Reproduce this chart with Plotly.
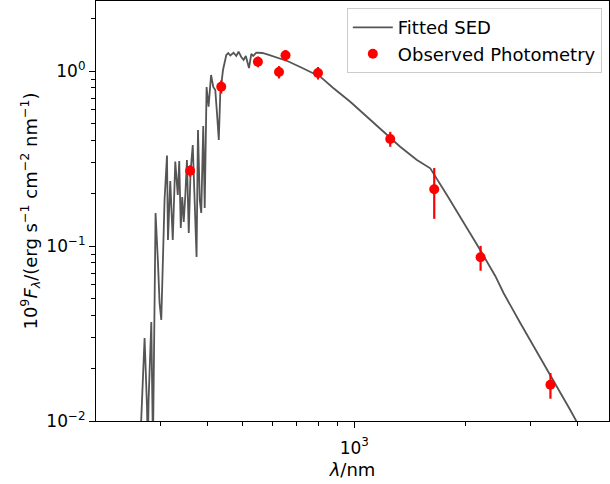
import plotly.graph_objects as go

# Fitted SED (model spectrum), wavelength in nm, flux in 1e-9 erg/s/cm2/nm
sed_wavelength = [
    262.9, 268.5, 271.2, 275.3, 276.7, 278.1, 282.8, 285.7, 290.4, 294.8,
    297.7, 300.9, 304.1, 307.1, 311.8, 313.7, 318.2, 323.2, 328.3, 333.4,
    336.5, 339.7, 342.8, 346.0, 349.3, 353.0, 357.0, 361.0, 366.0, 369.9,
    374.8, 378.1, 382.3, 385.9, 390.7, 394.3, 398.9, 403.9, 410.2, 415.9,
    421.1, 425.6, 430.4, 434.4, 441.8, 451.0, 456.6, 462.3, 471.9, 479.9,
    486.8, 495.1, 502.2, 509.2, 519.4, 526.9, 533.3, 543.4, 564.1, 582.0,
    619.4, 659.1, 714.6, 760.5, 809.3, 877.5, 975.4, 1082, 1200, 1331,
    1477, 1605, 1780, 1974, 2190, 2405, 2532, 2810, 3118, 3456,
    3835, 3981, 4344,
]
sed_flux = [
    0.006, 0.01715, 0.0298, 0.01208, 0.007, 0.01318, 0.0368, 0.007, 0.1544, 0.0799,
    0.0472, 0.0378, 0.0762, 0.1832, 0.329, 0.1082, 0.235, 0.1082, 0.304, 0.1956,
    0.306, 0.1267, 0.1905, 0.1371, 0.1905, 0.31, 0.1187, 0.2648, 0.3777, 0.2174,
    0.0865, 0.46, 0.1832, 0.1544, 0.485, 0.1648, 0.81, 0.625, 0.949, 0.81,
    0.779, 0.575, 0.4035, 0.7486, 1.013, 1.234, 1.267, 1.226, 1.272, 1.218,
    1.289, 1.202, 1.156, 1.218, 1.04, 1.251, 1.22, 1.272, 1.267, 1.243,
    1.194, 1.141, 1.054, 0.991, 0.928, 0.7995, 0.6675, 0.548, 0.4498, 0.3693,
    0.31, 0.278, 0.1956, 0.1371, 0.0948, 0.0674, 0.0539, 0.0363, 0.0249, 0.01715,
    0.01156, 0.0100, 0.00683,
]

# Observed photometry
phot_wavelength = [360, 437, 549, 626, 652, 798, 1251, 1645, 2195, 3390]
phot_flux = [0.269, 0.813, 1.13, 0.987, 1.229, 0.974, 0.409, 0.211, 0.0862, 0.0161]
phot_err = [0.02, 0.07, 0.08, 0.08, 0.09, 0.08, 0.04, 0.068, 0.014, 0.0027]

x_major = [1000]
x_major_text = ["10<sup>3</sup>"]
x_minor = [200, 300, 400, 500, 600, 700, 800, 900, 2000, 3000, 4000]
y_major = [0.01, 0.1, 1]
y_major_text = ["10<sup>\u22122</sup>", "10<sup>\u22121</sup>", "10<sup>0</sup>"]
y_minor = [m * 10.0**e for e in (-2, -1, 0) for m in range(2, 10) if m * 10.0**e < 2.5]

FONT = "DejaVu Sans"

fig = go.Figure()
fig.add_trace(go.Scatter(
    x=sed_wavelength, y=sed_flux, mode="lines", name="Fitted SED",
    line=dict(color="#555555", width=1.8),
))
fig.add_trace(go.Scatter(
    x=phot_wavelength, y=phot_flux, mode="markers", name="Observed Photometry",
    marker=dict(color="#ff0000", size=10),
    error_y=dict(type="data", array=phot_err, visible=True, color="#ff0000",
                 thickness=2.2, width=0),
))

axis_common = dict(
    showline=True, linecolor="black", linewidth=1.2, mirror=True,
    ticks="outside", ticklen=6, tickwidth=1.2, tickcolor="black",
    showgrid=False, zeroline=False,
    tickfont=dict(family=FONT, size=17, color="black"),
)

fig.update_xaxes(
    type="log", range=[2.302, 3.6885],
    tickmode="array", tickvals=x_major, ticktext=x_major_text,
    minor=dict(tickmode="array", tickvals=x_minor, ticks="outside",
               ticklen=3.5, tickwidth=1, tickcolor="black", showgrid=False),
    ticklabelstandoff=5,
    title=dict(text="<i>\u03bb</i>/nm", font=dict(family=FONT, size=18, color="black"),
               standoff=6),
    **axis_common,
)
fig.update_yaxes(
    type="log", range=[-2, 0.4],
    tickmode="array", tickvals=y_major, ticktext=y_major_text,
    minor=dict(tickmode="array", tickvals=y_minor, ticks="outside",
               ticklen=3.5, tickwidth=1, tickcolor="black", showgrid=False),
    title=dict(text="10<sup>9</sup><i>F</i><sub><i>\u03bb</i></sub>/(erg s<sup>\u22121</sup> cm<sup>\u22122</sup> nm<sup>\u22121</sup>)",
               font=dict(family=FONT, size=18, color="black"), standoff=4),
    **axis_common,
)

fig.update_layout(
    width=610, height=484,
    margin=dict(l=96, r=1, t=1, b=63, autoexpand=False),
    paper_bgcolor="white", plot_bgcolor="white",
    font=dict(family=FONT, size=18, color="black"),
    showlegend=True,
    legend=dict(
        x=0.986, y=0.983, xanchor="right", yanchor="top",
        bgcolor="rgba(255,255,255,0.8)", bordercolor="#cccccc", borderwidth=1,
        font=dict(family=FONT, size=18, color="black"),
        tracegroupgap=0, itemwidth=40,
    ),
)

fig.write_html(
    "out.html",
    config={"displayModeBar": False},
    post_script="document.body.style.margin='0';document.body.style.overflow='hidden';",
)
